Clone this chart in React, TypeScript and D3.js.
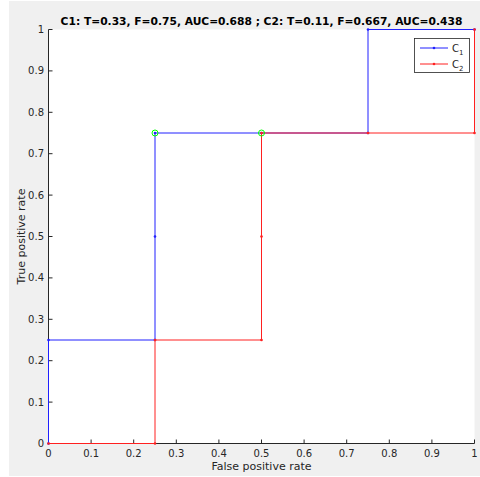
import React from "react";
import * as d3 from "d3";

const c1X = [0, 0, 0.25, 0.25, 0.25, 0.5, 0.75, 0.75, 1];
const c1Y = [0, 0.25, 0.25, 0.5, 0.75, 0.75, 0.75, 1, 1];
const c2X = [0, 0.25, 0.25, 0.5, 0.5, 0.5, 0.75, 1, 1];
const c2Y = [0, 0, 0.25, 0.25, 0.5, 0.75, 0.75, 0.75, 1];
const optX = [0.25, 0.5];
const optY = [0.75, 0.75];
const seriesNames = ["1", "2"];
const seriesColors = ["#2020ff", "#ff2020"];
const xTicks = [0, 0.1, 0.2, 0.3, 0.4, 0.5, 0.6, 0.7, 0.8, 0.9, 1];
const yTicks = [0, 0.1, 0.2, 0.3, 0.4, 0.5, 0.6, 0.7, 0.8, 0.9, 1];
const title = "C1: T=0.33, F=0.75, AUC=0.688 ; C2: T=0.11, F=0.667, AUC=0.438";
const xLabel = "False positive rate";
const yLabel = "True positive rate";

const W = 480;
const H = 477;
const L = 48.5, R = 474.5, T = 29.5, B = 443.5;
const font = "'DejaVu Sans', sans-serif";
const axisColor = "#262626";

export default function App() {
  const x = d3.scaleLinear().domain([0, 1]).range([L, R]);
  const y = d3.scaleLinear().domain([0, 1]).range([B, T]);
  const line = d3
    .line<[number, number]>()
    .x((d) => x(d[0]))
    .y((d) => y(d[1]));
  const series = [
    c1X.map((v, i) => [v, c1Y[i]] as [number, number]),
    c2X.map((v, i) => [v, c2Y[i]] as [number, number]),
  ];
  const fmt = (v: number) => (v === 0 ? "0" : v === 1 ? "1" : d3.format(".1f")(v));
  return (
    <svg
      width={W}
      height={H}
      style={{ position: "absolute", left: 0, top: 0, display: "block" }}
    >
      <rect x={0} y={0} width={W} height={H} fill="#ffffff" />
      <rect x={9} y={1} width={W - 9} height={H - 2} fill="#f0f0f0" />
      <rect x={L} y={T} width={R - L} height={B - T} fill="#ffffff" />
      <text
        x={(L + R) / 2}
        y={25}
        textAnchor="middle"
        fontFamily={font}
        fontWeight="bold"
        fontSize={10.7}
        fill="#000"
      >
        {title}
      </text>
      {/* axes lines */}
      <line x1={L} x2={R} y1={B} y2={B} stroke={axisColor} strokeWidth={1} />
      <line x1={L} x2={L} y1={T} y2={B} stroke={axisColor} strokeWidth={1} />
      {xTicks.map((t) => (
        <g key={"x" + t}>
          <line x1={x(t)} x2={x(t)} y1={B} y2={B - 4} stroke={axisColor} />
          <text
            x={x(t)}
            y={457}
            textAnchor="middle"
            fontFamily={font}
            fontSize={10}
            fill={axisColor}
          >
            {fmt(t)}
          </text>
        </g>
      ))}
      {yTicks.map((t) => (
        <g key={"y" + t}>
          <line x1={L} x2={L + 4} y1={y(t)} y2={y(t)} stroke={axisColor} />
          <text
            x={44}
            y={y(t) + 3.5}
            textAnchor="end"
            fontFamily={font}
            fontSize={10}
            fill={axisColor}
          >
            {fmt(t)}
          </text>
        </g>
      ))}
      <text
        x={(L + R) / 2}
        y={470}
        textAnchor="middle"
        fontFamily={font}
        fontSize={11}
        fill={axisColor}
      >
        {xLabel}
      </text>
      <text
        transform={`translate(25,${(T + B) / 2}) rotate(-90)`}
        textAnchor="middle"
        fontFamily={font}
        fontSize={11}
        fill={axisColor}
      >
        {yLabel}
      </text>
      {series.map((s, i) => (
        <g key={"s" + i}>
          <path d={line(s) || ""} fill="none" stroke={seriesColors[i]} strokeWidth={1} />
          {s.map((p, j) => (
            <circle key={j} cx={x(p[0])} cy={y(p[1])} r={1.3} fill={seriesColors[i]} />
          ))}
        </g>
      ))}
      {optX.map((v, i) => (
        <circle
          key={"o" + i}
          cx={x(v)}
          cy={y(optY[i])}
          r={3}
          fill="none"
          stroke="#00ff00"
          strokeWidth={1}
        />
      ))}
      {/* legend */}
      <rect x={414.5} y={38.5} width={55} height={34} fill="#ffffff" stroke={axisColor} strokeWidth={0.8} />
      {seriesNames.map((n, i) => (
        <g key={"l" + i}>
          <line x1={420} x2={448} y1={48 + i * 16} y2={48 + i * 16} stroke={seriesColors[i]} strokeWidth={1} />
          <circle cx={434} cy={48 + i * 16} r={1.3} fill={seriesColors[i]} />
          <text x={452} y={52 + i * 16} fontFamily={font} fontSize={10} fill={axisColor}>
            C
            <tspan fontSize={7} dy={3}>
              {n}
            </tspan>
          </text>
        </g>
      ))}
    </svg>
  );
}
